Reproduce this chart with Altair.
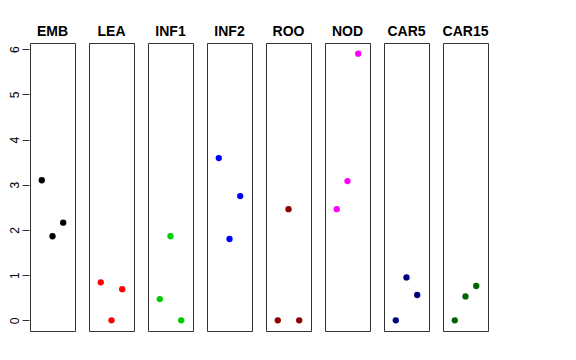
import altair as alt
import pandas as pd

categories = ["EMB", "LEA", "INF1", "INF2", "ROO", "NOD", "CAR5", "CAR15"]
colors = ["#000000", "#FF0000", "#00CD00", "#0000FF", "#8B0000", "#FF00FF", "#000080", "#006400"]
# three replicate values per category (left, middle, right position in panel)
values = {
    "EMB": [3.10, 1.86, 2.16],
    "LEA": [0.84, 0.00, 0.69],
    "INF1": [0.47, 1.86, 0.00],
    "INF2": [3.59, 1.80, 2.75],
    "ROO": [0.00, 2.46, 0.00],
    "NOD": [2.46, 3.08, 5.90],
    "CAR5": [0.00, 0.95, 0.56],
    "CAR15": [0.00, 0.53, 0.76],
}
positions = [-1, 0, 1]

rows = []
for c in categories:
    for p, v in zip(positions, values[c]):
        rows.append({"cat": c, "pos": p, "val": v})
df = pd.DataFrame(rows)

chart = alt.Chart(df).mark_circle(size=40, opacity=1).encode(
    x=alt.X("pos:Q", axis=None, scale=alt.Scale(domain=[-2.1, 2.1], nice=False, zero=False)),
    y=alt.Y("val:Q", title=None,
            scale=alt.Scale(domain=[-0.236, 6.136], nice=False, zero=False),
            axis=alt.Axis(values=[0, 1, 2, 3, 4, 5, 6], grid=False, domain=False,
                          tickSize=7, tickColor="#333333", labelAngle=-90,
                          labelFont="Liberation Sans", labelFontSize=12,
                          labelColor="#000000", labelPadding=1)),
    color=alt.Color("cat:N", scale=alt.Scale(domain=categories, range=colors), legend=None),
).properties(width=45, height=288).facet(
    column=alt.Column("cat:N", sort=categories, title=None,
                      header=alt.Header(labelFont="Liberation Sans", labelFontSize=14,
                                        labelFontWeight="bold", labelColor="#000000",
                                        labelPadding=3)),
    spacing=12,
).properties(
    padding={"left": 0, "top": 17, "right": 5, "bottom": 5}
).configure(background="white").configure_view(stroke="#333333", strokeWidth=1)

chart.save("out.html", embed_options={"renderer": "svg", "actions": False})
